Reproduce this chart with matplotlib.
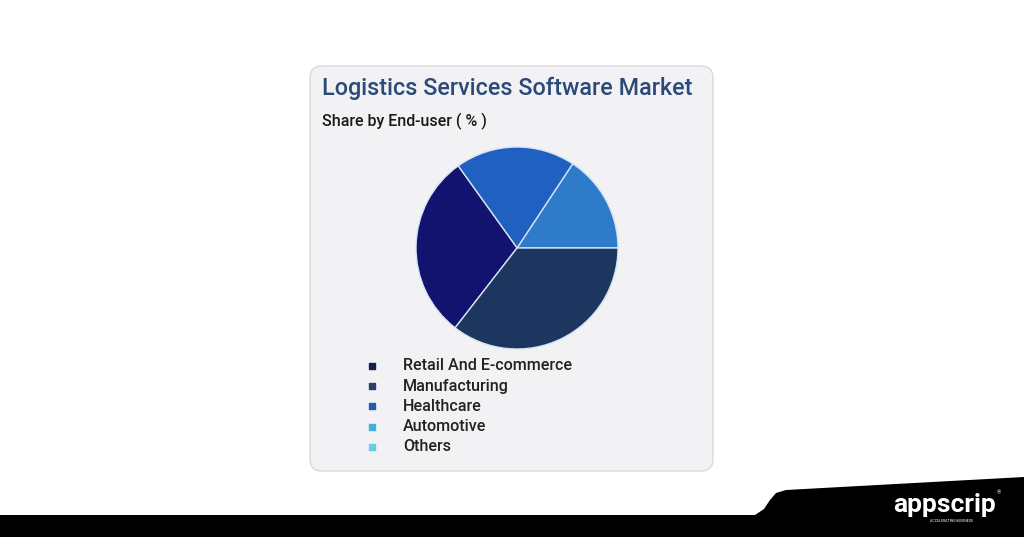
import matplotlib.pyplot as plt
from matplotlib.patches import FancyBboxPatch, Polygon

plt.rcParams['font.family'] = ['Roboto', 'DejaVu Sans']

# Data (legend order)
categories = ['Retail And E-commerce', 'Manufacturing', 'Healthcare', 'Automotive', 'Others']
legend_colors = ['#14204a', '#2d3f6c', '#1f5ea8', '#3db3d9', '#6ccbe2']

# Pie wedges (drawn counter-clockwise from 3 o'clock)
pie_labels = ['Automotive', 'Healthcare', 'Retail And E-commerce', 'Manufacturing']
pie_values = [15.7, 19.2, 29.6, 35.5]
pie_colors = ['#2e7bc9', '#2060c0', '#12136e', '#1c3660']

W, H = 1024, 537
fig = plt.figure(figsize=(W / 100, H / 100), dpi=100, facecolor='white')

# background axes in pixel coordinates
bg = fig.add_axes([0, 0, 1, 1])
bg.set_xlim(0, W)
bg.set_ylim(H, 0)
bg.axis('off')

# card
card = FancyBboxPatch((310, 66), 403, 405, boxstyle='round,pad=0,rounding_size=12',
                      facecolor='#f2f2f5', edgecolor='#d9d9de', linewidth=1)
bg.add_patch(card)

bg.text(322, 88, 'Logistics Services Software Market', fontsize=16.8,
        color='#2b4a78', va='center', ha='left', fontweight='medium')
bg.text(322, 121, 'Share by End-user ( % )', fontsize=11.5, color='#1a1a1a',
        va='center', ha='left', fontweight='medium')

# legend
for i, (cat, col) in enumerate(zip(categories, legend_colors)):
    y = 366 + i * 20.2
    bg.scatter([372], [y], marker='s', s=22, color=col)
    bg.text(403, y, cat, fontsize=11.6, color='#222222', va='center', ha='left',
            fontweight='medium')

# bottom black band with logo
band = Polygon([(0, 515), (755, 515), (764, 509), (770, 500), (776, 493), (786, 490),
                (1024, 477), (1024, H), (0, H)], closed=True,
               facecolor='black', edgecolor='none')
bg.add_patch(band)
bg.text(945, 505, 'appscrip', fontsize=19, color='white', fontweight='bold',
        ha='center', va='center')
bg.text(951, 521, 'ACCELERATING BUSINESS', fontsize=2.6, color='white',
        ha='center', va='center')
bg.text(999, 493, '®', fontsize=4, color='white', ha='center', va='center')

# pie
cx, cy, r = 517, 248, 102
pax = fig.add_axes([(cx - r) / W, (H - cy - r) / H, 2 * r / W, 2 * r / H])
pax.pie(pie_values, colors=pie_colors, startangle=0, counterclock=True,
        wedgeprops=dict(edgecolor='#d5e3f3', linewidth=1))
pax.set_xlim(-1.01, 1.01)
pax.set_ylim(-1.01, 1.01)
pax.set_aspect('equal')
pax.axis('off')

fig.savefig('out.png', dpi=100, facecolor='white')
